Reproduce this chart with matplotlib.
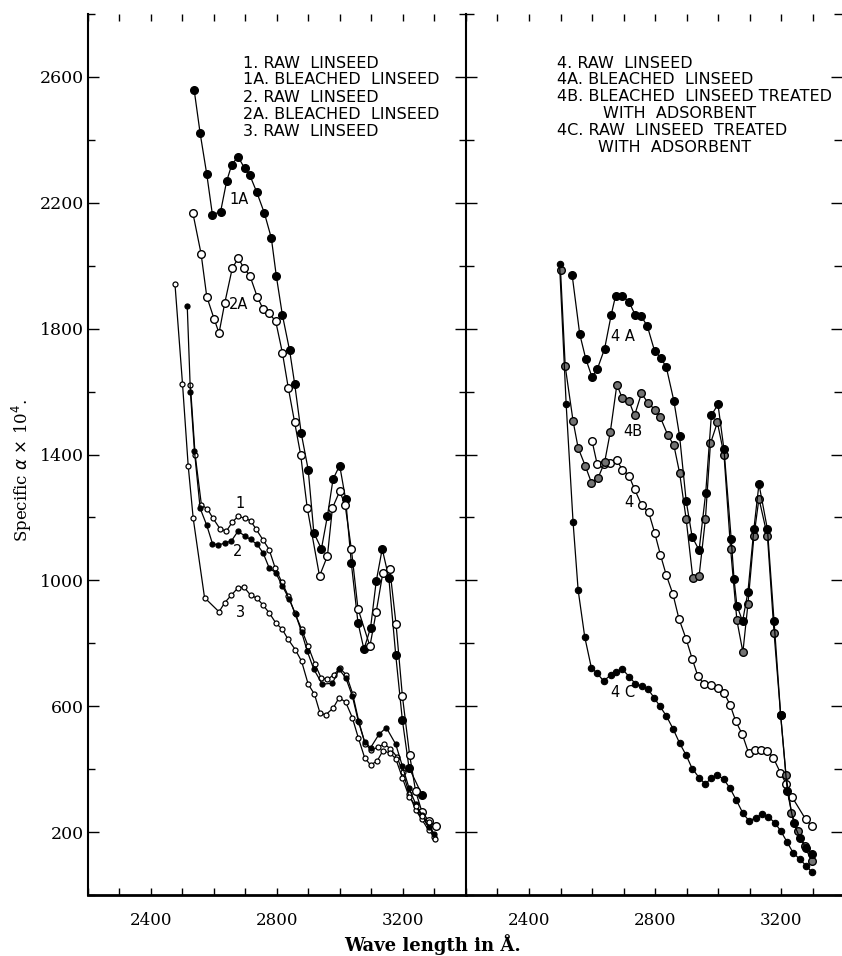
import numpy as np
import matplotlib
matplotlib.use("Agg")
import matplotlib.pyplot as plt
from matplotlib.ticker import MultipleLocator, FixedLocator

# ---- left panel: curves 1, 1A, 2, 2A, 3 ----
x1a = [2537, 2556, 2577, 2595, 2621, 2640, 2656, 2676, 2697, 2714, 2736, 2760, 2782, 2798, 2817, 2840, 2856,
       2877, 2899, 2917, 2941, 2960, 2978, 2999, 3018, 3036, 3057, 3076, 3097, 3115, 3134, 3155, 3177, 3198,
       3219, 3261]
y1a = [2559, 2421, 2291, 2162, 2172, 2268, 2320, 2347, 2310, 2287, 2233, 2167, 2088, 1966, 1844, 1731, 1625,
       1467, 1352, 1151, 1100, 1204, 1322, 1365, 1257, 1054, 866, 781, 849, 997, 1100, 1008, 762, 556,
       405, 317]

x2a = [2533, 2559, 2577, 2600, 2616, 2634, 2658, 2677, 2695, 2714, 2737, 2756, 2775, 2796, 2817, 2836, 2856,
       2875, 2896, 2935, 2960, 2976, 2999, 3016, 3036, 3057, 3095, 3115, 3136, 3158, 3178, 3198, 3221, 3240,
       3260, 3282, 3304]
y2a = [2167, 2038, 1902, 1832, 1786, 1881, 1992, 2024, 1992, 1968, 1902, 1862, 1849, 1823, 1724, 1611, 1502,
       1400, 1230, 1014, 1077, 1230, 1283, 1241, 1100, 910, 791, 900, 1024, 1037, 860, 633, 445, 330,
       265, 235, 220]

x1 = [2525, 2540, 2560, 2579, 2597, 2619, 2639, 2658, 2677, 2698, 2716, 2734, 2756, 2775, 2794, 2815, 2836,
      2857, 2878, 2899, 2920, 2940, 2960, 2980, 3000, 3020, 3040, 3060, 3080, 3100, 3120, 3140, 3160, 3180,
      3200, 3220, 3240, 3260, 3282, 3300]
y1 = [1620, 1400, 1240, 1227, 1197, 1164, 1156, 1185, 1204, 1197, 1190, 1162, 1128, 1098, 1040, 995, 950,
      895, 845, 790, 735, 690, 685, 700, 720, 700, 640, 550, 480, 460, 470, 480, 465, 440,
      390, 320, 270, 240, 205, 185]

x2 = [2515, 2525, 2538, 2556, 2577, 2595, 2614, 2635, 2655, 2676, 2697, 2716, 2737, 2756, 2775, 2796, 2817,
      2838, 2859, 2878, 2896, 2917, 2944, 2976, 2997, 3018, 3039, 3058, 3078, 3097, 3124, 3147, 3177, 3198,
      3219, 3240, 3260, 3282, 3300]
y2 = [1873, 1600, 1410, 1229, 1175, 1117, 1112, 1119, 1125, 1156, 1142, 1130, 1114, 1087, 1040, 1024, 982,
      942, 892, 836, 775, 717, 670, 673, 717, 691, 633, 553, 487, 468, 511, 532, 479, 410,
      340, 290, 255, 215, 195]

x3 = [2476, 2500, 2518, 2534, 2570, 2616, 2634, 2655, 2676, 2695, 2716, 2737, 2756, 2775, 2796, 2817, 2835,
      2858, 2878, 2899, 2919, 2936, 2954, 2979, 2997, 3018, 3039, 3058, 3078, 3097, 3118, 3136, 3158, 3177,
      3198, 3219, 3240, 3259, 3282, 3302]
y3 = [1943, 1625, 1365, 1197, 945, 900, 929, 953, 976, 979, 953, 943, 921, 897, 865, 844, 813,
      780, 743, 670, 638, 580, 572, 595, 627, 613, 564, 500, 437, 413, 426, 458, 452, 433,
      373, 313, 284, 252, 231, 178]

# ---- right panel: curves 4, 4A, 4B, 4C ----
x4a = [2537, 2561, 2580, 2600, 2617, 2640, 2661, 2675, 2696, 2717, 2738, 2757, 2776, 2799, 2818, 2836, 2860,
       2878, 2899, 2918, 2940, 2961, 2979, 3000, 3019, 3042, 3051, 3060, 3078, 3095, 3114, 3130, 3157, 3178,
       3199, 3220, 3240, 3260, 3280, 3297]
y4a = [1970, 1783, 1705, 1646, 1672, 1736, 1844, 1905, 1904, 1886, 1842, 1839, 1807, 1728, 1708, 1677, 1570,
       1459, 1252, 1138, 1096, 1278, 1525, 1559, 1416, 1131, 1003, 920, 870, 963, 1164, 1306, 1162, 870,
       571, 330, 230, 180, 150, 130]

x4b = [2500, 2515, 2540, 2556, 2579, 2598, 2619, 2640, 2658, 2679, 2696, 2717, 2735, 2757, 2778, 2799, 2817,
       2840, 2860, 2878, 2899, 2920, 2940, 2960, 2976, 2998, 3019, 3040, 3060, 3079, 3095, 3114, 3130, 3157,
       3178, 3199, 3216, 3233, 3254, 3275, 3297]
y4b = [1987, 1680, 1506, 1421, 1363, 1311, 1325, 1375, 1471, 1622, 1579, 1571, 1524, 1594, 1564, 1543, 1518,
       1463, 1429, 1342, 1194, 1008, 1014, 1194, 1435, 1502, 1400, 1100, 873, 772, 924, 1140, 1260, 1140,
       833, 571, 380, 262, 204, 156, 108]

x4 = [2600, 2616, 2638, 2658, 2679, 2696, 2717, 2735, 2758, 2780, 2799, 2817, 2836, 2857, 2876, 2899, 2918,
      2936, 2955, 2977, 3000, 3019, 3039, 3056, 3077, 3097, 3118, 3137, 3156, 3175, 3198, 3217, 3236, 3278,
      3297]
y4 = [1444, 1371, 1371, 1373, 1381, 1352, 1333, 1290, 1238, 1216, 1151, 1082, 1016, 956, 878, 813, 751,
      696, 671, 666, 659, 643, 603, 553, 511, 452, 460, 460, 458, 437, 389, 352, 310, 241,
      220]

x4c = [2497, 2518, 2540, 2556, 2577, 2598, 2616, 2637, 2659, 2677, 2695, 2719, 2738, 2758, 2778, 2797, 2815,
       2836, 2857, 2878, 2899, 2918, 2940, 2960, 2979, 2998, 3018, 3037, 3058, 3079, 3099, 3120, 3140, 3159,
       3180, 3199, 3220, 3238, 3259, 3280, 3297]
y4c = [2005, 1559, 1184, 969, 820, 722, 705, 680, 699, 709, 719, 693, 671, 664, 654, 627, 601,
       569, 529, 483, 444, 402, 373, 352, 373, 381, 368, 341, 302, 260, 235, 246, 257, 249,
       230, 204, 167, 135, 114, 93, 74]

legend_left = ["1. RAW  LINSEED", "1A. BLEACHED  LINSEED", "2. RAW  LINSEED",
               "2A. BLEACHED  LINSEED", "3. RAW  LINSEED"]
legend_right = ["4. RAW  LINSEED", "4A. BLEACHED  LINSEED", "4B. BLEACHED  LINSEED TREATED",
                "WITH  ADSORBENT", "4C. RAW  LINSEED  TREATED", "WITH  ADSORBENT"]
legend_right_x = [557, 557, 557, 603, 557, 598]

W, H = 842, 956
fig = plt.figure(figsize=(W / 100, H / 100), dpi=100)
serif = "DejaVu Serif"
sans = "DejaVu Sans"

ax1 = fig.add_axes([88 / W, 1 - 895 / H, (466 - 88) / W, (895 - 14) / H])
ax2 = fig.add_axes([466 / W, 1 - 895 / H, (W - 466) / W, (895 - 14) / H])

big = dict(color="black", lw=0.9, ms=5.5, markeredgewidth=1.0)
small = dict(color="black", lw=0.9, ms=3.6, markeredgewidth=0.9)

ax1.plot(x1a, y1a, "o-", mfc="black", mec="black", **big)
ax1.plot(x2a, y2a, "o-", mfc="white", mec="black", **big)
ax1.plot(x1, y1, "o-", mfc="white", mec="black", **small)
ax1.plot(x2, y2, "o-", mfc="black", mec="black", **small)
ax1.plot(x3, y3, "o-", mfc="white", mec="black", **small)

ax2.plot(x4, y4, "o-", mfc="white", mec="black", **big)
ax2.plot(x4b, y4b, "o-", mfc="0.45", mec="black", **big)
ax2.plot(x4a, y4a, "o-", mfc="black", mec="black", **big)
ax2.plot(x4c, y4c, "o-", mfc="black", mec="black", color="black", lw=0.9, ms=4.6, markeredgewidth=0.8)

for ax, xmax in ((ax1, 3400), (ax2, 2200 + (W - 466) / 31.5 * 100)):
    ax.set_xlim(2200, xmax)
    ax.set_ylim(0, 2800)
    ax.spines["top"].set_visible(False)
    ax.spines["bottom"].set_linewidth(2.0)
    ax.xaxis.set_major_locator(FixedLocator([2400, 2800, 3200]))
    ax.xaxis.set_minor_locator(MultipleLocator(100))
    ax.yaxis.set_major_locator(MultipleLocator(400, offset=200))
    ax.yaxis.set_minor_locator(MultipleLocator(200))
    ax.tick_params(axis="x", which="both", direction="in", top=True, bottom=True,
                   length=5, width=1.0, labelsize=12, pad=12)
    for lab in ax.get_xticklabels():
        lab.set_fontfamily(serif)

ax1.spines["right"].set_visible(False)
ax1.spines["left"].set_linewidth(1.5)
ax1.tick_params(axis="y", which="major", direction="in", left=True, right=True,
                length=8, width=1.0, labelsize=12.5, pad=3)
ax1.tick_params(axis="y", which="minor", direction="in", left=True, right=True,
                length=5, width=1.0)
for lab in ax1.get_yticklabels():
    lab.set_fontfamily(serif)

ax2.spines["right"].set_visible(False)
ax2.spines["left"].set_linewidth(1.5)
ax2.tick_params(axis="y", which="both", direction="in", left=True, right=True,
                labelleft=False, length=8, width=1.0)
ax2.tick_params(axis="y", which="minor", length=6)
for lab in ax2.get_xticklabels():
    lab.set_fontfamily(serif)

# curve labels
lab_kw = dict(fontsize=10.5, family=sans, ha="center", va="center")
ax1.text(2679, 2210, "1A", **lab_kw)
ax1.text(2679, 1876, "2A", **lab_kw)
ax1.text(2683, 1244, "1", **lab_kw)
ax1.text(2676, 1092, "2", **lab_kw)
ax1.text(2683, 898, "3", **lab_kw)
ax2.text(2698, 1775, "4 A", **lab_kw)
ax2.text(2730, 1473, "4B", **lab_kw)
ax2.text(2717, 1248, "4", **lab_kw)
ax2.text(2698, 644, "4 C", **lab_kw)

# legends
leg_kw = dict(fontsize=11.5, family=sans, va="center", ha="left")
for i, t in enumerate(legend_left):
    fig.text(243 / W, 1 - (63 + i * 17) / H, t, **leg_kw)
for i, t in enumerate(legend_right):
    fig.text(legend_right_x[i] / W, 1 - (63 + i * 16.8) / H, t, **leg_kw)

fig.text(22 / W, 1 - 470 / H, "Specific $\\alpha$ $\\times$ 10$^4$.", rotation=90,
         fontsize=12, family=serif, ha="center", va="center")
fig.text(432 / W, 1 - 945 / H, "Wave length in Å.", fontsize=13, family=serif,
         ha="center", va="center", fontweight="bold")

fig.savefig("out.png", dpi=100)
